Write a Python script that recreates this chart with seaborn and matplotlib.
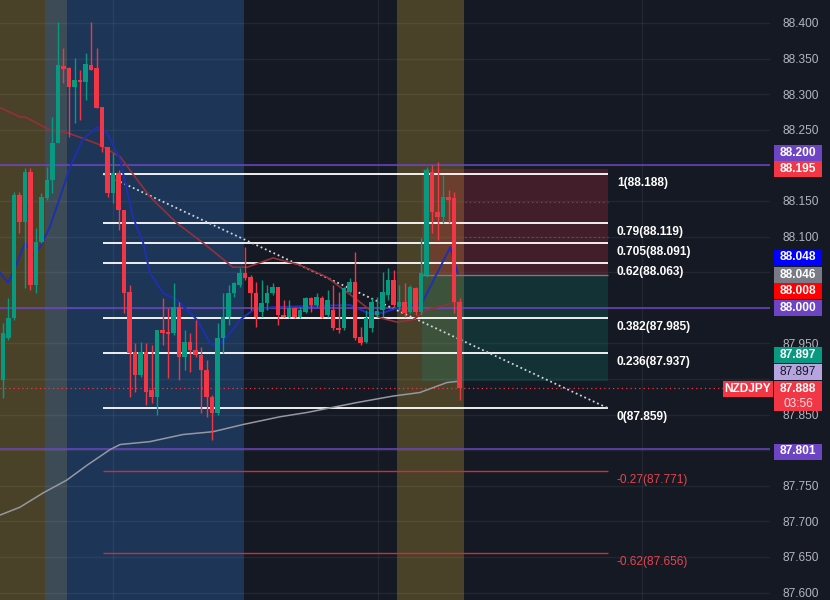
import numpy as np
import pandas as pd
import seaborn as sns
import matplotlib
matplotlib.use("Agg")
import matplotlib.pyplot as plt
from matplotlib.patches import Rectangle

#candles NZDJPY, oldest -> newest
opens = [87.899, 87.958, 87.986, 88.158, 88.121, 88.191, 88.032, 88.092, 88.154, 88.179,
         88.231, 88.340, 88.337, 88.310, 88.320, 88.317, 88.341, 88.337, 88.282, 88.226,
         88.161, 88.189, 88.137, 88.022, 87.938, 87.906, 87.938, 87.885, 87.875, 87.969,
         87.966, 87.965, 88.001, 87.931, 87.952, 87.941, 87.934, 87.913, 87.875, 87.852,
         87.958, 87.987, 88.021, 88.032, 88.049, 88.043, 88.021, 87.994, 88.007, 88.021,
         88.029, 87.990, 87.987, 88.000, 87.987, 87.994, 88.014, 88.004, 88.014, 87.990,
         87.997, 87.972, 87.972, 88.022, 88.036, 87.959, 87.952, 87.972, 87.990, 87.997,
         88.018, 88.039, 88.001, 88.008, 87.994, 88.028, 87.994, 88.046, 88.191, 88.135,
         88.128, 88.156, 88.154, 88.008]
highs = [87.979, 88.014, 88.163, 88.163, 88.196, 88.196, 88.112, 88.161, 88.198, 88.268,
         88.401, 88.365, 88.338, 88.351, 88.334, 88.358, 88.401, 88.365, 88.282, 88.226,
         88.217, 88.194, 88.137, 88.032, 87.951, 87.952, 87.951, 87.948, 87.969, 88.014,
         88.000, 88.035, 88.008, 87.969, 87.965, 87.983, 87.945, 87.927, 87.878, 87.979,
         88.021, 88.032, 88.036, 88.056, 88.085, 88.046, 88.036, 88.039, 88.032, 88.035,
         88.029, 88.011, 88.011, 88.001, 88.001, 88.015, 88.015, 88.021, 88.016, 88.025,
         88.032, 88.022, 88.029, 88.042, 88.078, 87.973, 87.997, 88.014, 88.015, 88.050,
         88.056, 88.053, 88.032, 88.035, 88.032, 88.029, 88.098, 88.198, 88.201, 88.205,
         88.187, 88.165, 88.163, 88.014]
lows = [87.873, 87.955, 87.983, 88.105, 88.028, 88.025, 88.021, 88.091, 88.151, 88.161,
        88.231, 88.316, 88.240, 88.260, 88.264, 88.292, 88.334, 88.281, 88.219, 88.156,
        88.147, 88.109, 87.993, 87.875, 87.882, 87.903, 87.863, 87.866, 87.849, 87.948,
        87.901, 87.962, 87.899, 87.913, 87.910, 87.931, 87.852, 87.847, 87.814, 87.849,
        87.937, 87.976, 88.015, 88.029, 88.039, 87.997, 87.973, 87.987, 87.997, 88.018,
        87.976, 87.987, 87.986, 87.986, 87.986, 87.993, 87.994, 88.001, 87.986, 87.987,
        87.969, 87.965, 87.969, 88.021, 87.955, 87.948, 87.951, 87.966, 87.987, 87.987,
        88.011, 88.001, 87.997, 87.987, 87.993, 87.990, 87.990, 88.043, 88.105, 88.095,
        88.119, 88.119, 87.993, 87.871]
closes = [87.965, 87.986, 88.158, 88.121, 88.191, 88.032, 88.092, 88.156, 88.179, 88.231,
          88.341, 88.335, 88.310, 88.320, 88.317, 88.342, 88.334, 88.281, 88.226, 88.161,
          88.189, 88.137, 88.021, 87.937, 87.906, 87.938, 87.882, 87.875, 87.969, 87.965,
          87.963, 88.001, 87.931, 87.952, 87.941, 87.934, 87.913, 87.875, 87.852, 87.958,
          87.987, 88.021, 88.035, 88.049, 88.042, 88.021, 87.987, 88.007, 88.021, 88.029,
          87.990, 87.987, 88.000, 87.987, 87.997, 88.014, 88.004, 88.015, 87.987, 88.011,
          87.972, 87.969, 88.028, 88.036, 87.958, 87.951, 87.986, 88.008, 87.996, 88.022,
          88.039, 88.004, 88.008, 87.993, 88.029, 87.994, 88.049, 88.194, 88.135, 88.128,
          88.156, 88.151, 88.008, 87.888]

#moving averages (bar index, price)
ma_fast_x = [-0.5, 0.9, 2.2, 4, 5.5, 6.7, 8.5, 10.4, 12.2, 14.5, 17.1, 18.9, 21.3, 23.6, 25.5,
             26.7, 29.1, 31.6, 35.3, 37.6, 38.9, 40.7, 43.1, 45.5, 49.1, 63.1, 66.2, 69.1,
             72.2, 76.2, 81.3, 82.7]
ma_fast_y = [88.049, 88.035, 88.057, 88.091, 88.074, 88.085, 88.113, 88.156, 88.198, 88.236,
             88.254, 88.246, 88.208, 88.128, 88.091, 88.049, 88.021, 88.011, 87.983, 87.951,
             87.945, 87.959, 87.983, 87.997, 88.001, 88.004, 87.993, 87.993, 88.001, 88.007,
             88.085, 88.048]
ma_mid_x = [-0.5, 3.1, 4, 8.5, 11.6, 14.5, 17.6, 21.3, 26.7, 31.6, 36.4, 41.8, 44.4, 49.1,
            54, 58.9, 61.3, 64.4, 68.5, 71.6, 74.5, 77.1, 82.5]
ma_mid_y = [88.281, 88.268, 88.268, 88.250, 88.246, 88.238, 88.229, 88.212, 88.156, 88.119,
            88.091, 88.057, 88.057, 88.070, 88.060, 88.043, 88.029, 88.011, 87.986, 87.980,
            87.983, 87.997, 88.008]
ma_slow_x = [-0.5, 3.1, 7.3, 11.6, 15.3, 19.5, 21.3, 26.7, 32.7, 38.2, 43.6, 50.4, 55.3,
             64.4, 70.9, 75.8, 80.7, 83.1]
ma_slow_y = [87.709, 87.720, 87.740, 87.758, 87.779, 87.801, 87.808, 87.812, 87.822, 87.826,
             87.836, 87.847, 87.853, 87.867, 87.876, 87.881, 87.895, 87.897]

#fibonacci retracement
fib_ratios = ["1", "0.79", "0.705", "0.62", "0.382", "0.236", "0", "-0.27", "-0.62"]
fib_prices = [88.188, 88.119, 88.091, 88.063, 87.985, 87.937, 87.859, 87.771, 87.656]
fib_start, fib_end = 18.2, 110

#short position
pos_start, pos_end = 76.2, 110
stop_price, entry_price, target_price = 88.195, 88.046, 87.897

#horizontal levels and sessions
levels = [88.200, 88.000, 87.801]
last_price = 87.888
session_start = [-1, 7.6, 11.6, 71.6]
session_end = [7.6, 11.6, 43.8, 83.8]
session_colors = ["#4a4129", "#3d4b57", "#1d3557", "#4a4129"]
price_ticks = np.arange(87.60, 88.4001, 0.05)
hidden_ticks = ["88.200", "88.050", "88.000", "87.900", "87.800"]

BG = "#151924"
UP, DOWN = "#089981", "#f23645"

sns.set_theme(style="dark", rc={"axes.facecolor": BG, "figure.facecolor": BG,
                                "axes.edgecolor": BG, "grid.color": "#262a36"})
plt.rcParams["font.family"] = ["Liberation Sans", "DejaVu Sans"]

fig = plt.figure(figsize=(8.3, 6), dpi=100)
ax = fig.add_axes([0, 0, 770 / 830, 1])
ax.set_xlim(-0.545, 139.45)
ax.set_ylim(87.5896, 88.4323)

for s, e, c in zip(session_start, session_end, session_colors):
    ax.axvspan(s, e, color=c, lw=0, zorder=0.1)

#grid
ax.set_axisbelow(True)
ax.set_xticks([20, 68.2, 116.2])
ax.set_yticks(price_ticks)
ax.grid(True, color="#ffffff", alpha=0.06, lw=1)
ax.tick_params(axis="x", bottom=False, labelbottom=False)
ax.yaxis.tick_right()
ax.tick_params(axis="y", length=0, pad=9, labelsize=8.6, labelcolor="#b2b5be")
tick_labels = [f"{t:.3f}" for t in price_ticks]
ax.set_yticklabels(["" if t in hidden_ticks else t for t in tick_labels])
for sp in ax.spines.values():
    sp.set_visible(False)

#levels
for lv in levels:
    ax.axhline(lv, color="#6d45c4", lw=1.1, zorder=2)
ax.axhline(last_price, color=DOWN, lw=0.9, ls=(0, (1, 2.5)), zorder=2)

#position box
ax.fill_between([pos_start, pos_end], entry_price, stop_price, color=DOWN, alpha=0.2, lw=0, zorder=1)
ax.fill_between([pos_start, pos_end], target_price, entry_price, color=UP, alpha=0.2, lw=0, zorder=1)
ax.hlines(entry_price, pos_start, pos_end, color="#787b86", lw=1, zorder=2)
ax.hlines([88.149, 88.100], 84, pos_end, color="#9598a1", lw=0.8, ls=(0, (1, 3)), alpha=0.5, zorder=2)

#fib lines + labels
for r, p in zip(fib_ratios, fib_prices):
    neg = r.startswith("-")
    col = "#c9303c" if neg else "#ffffff"
    ax.hlines(p, fib_start, fib_end, color=col, lw=1.3 if not neg else 1.0, zorder=2.5)
    ax.annotate(f"{r}({p:.3f})", xy=(fib_end + 1.6, p), xytext=(0, -9), textcoords="offset pixels",
                va="center", ha="left", fontsize=8.6, color="#e0464f" if neg else "#ffffff",
                fontweight="normal" if neg else "bold", zorder=6)

#trend line of fib
sns.lineplot(x=[fib_start, fib_end], y=[fib_prices[0], fib_prices[6]], ax=ax,
             color="#d1d4dc", lw=1.3, linestyle=(0, (1, 1.6)), zorder=2.6)

#moving averages
sns.lineplot(x=ma_slow_x, y=ma_slow_y, ax=ax, color="#9598a1", lw=1.1, sort=False, estimator=None, zorder=3)
sns.lineplot(x=ma_mid_x, y=ma_mid_y, ax=ax, color="#93303a", lw=1.2, sort=False, estimator=None, zorder=3)
sns.lineplot(x=ma_fast_x, y=ma_fast_y, ax=ax, color="#1e2fb0", lw=1.4, sort=False, estimator=None, zorder=3)

#candles
df = pd.DataFrame({"open": opens, "high": highs, "low": lows, "close": closes})
df["i"] = np.arange(len(df))
df["color"] = np.where(df["close"] >= df["open"], UP, DOWN)
body_lo = df[["open", "close"]].min(axis=1)
body_h = np.maximum((df["close"] - df["open"]).abs(), 0.0016)
ax.vlines(df["i"], df["low"], df["high"], colors=df["color"], lw=1.0, zorder=4)
ax.bar(df["i"], body_h, bottom=body_lo, width=0.74, color=df["color"], lw=0, zorder=4.5)


#price scale badges
def badge(x0, x1, yc, h, fc, text, tc="white", weight="bold"):
    fig.add_artist(Rectangle((x0 / 830, 1 - (yc + h / 2) / 600), (x1 - x0) / 830, h / 600,
                             transform=fig.transFigure, fc=fc, ec="none", zorder=5))
    fig.text((x0 + x1) / 2 / 830, 1 - yc / 600, text, ha="center", va="center",
             fontsize=8.6, color=tc, fontweight=weight, zorder=6)


badge_text = ["88.200", "88.195", "88.048", "88.046", "88.008", "88.000", "87.897", "87.897", "87.801"]
badge_fc = ["#6d45c4", DOWN, "#0000ff", "#787b86", "#ff0000", "#6d45c4", UP, "#b7a3e0", "#6d45c4"]
badge_y = [152.5, 169, 257.5, 275, 291, 308, 355, 372, 451.5]
for t, c, y in zip(badge_text, badge_fc, badge_y):
    badge(774, 822, y, 16, c, t, tc="#131722" if c == "#b7a3e0" else "white",
          weight="normal" if c == "#b7a3e0" else "bold")

fig.add_artist(Rectangle((774 / 830, 1 - 411 / 600), 48 / 830, 30 / 600,
                         transform=fig.transFigure, fc=DOWN, ec="none", zorder=5))
fig.text(798 / 830, 1 - 389 / 600, "87.888", ha="center", va="center", fontsize=8.6,
         color="white", fontweight="bold", zorder=6)
fig.text(798 / 830, 1 - 404 / 600, "03:56", ha="center", va="center", fontsize=8.6,
         color="#fde0e2", zorder=6)
badge(723, 773, 389, 16, DOWN, "NZDJPY")

plt.savefig("out.png", dpi=100, facecolor=BG)
